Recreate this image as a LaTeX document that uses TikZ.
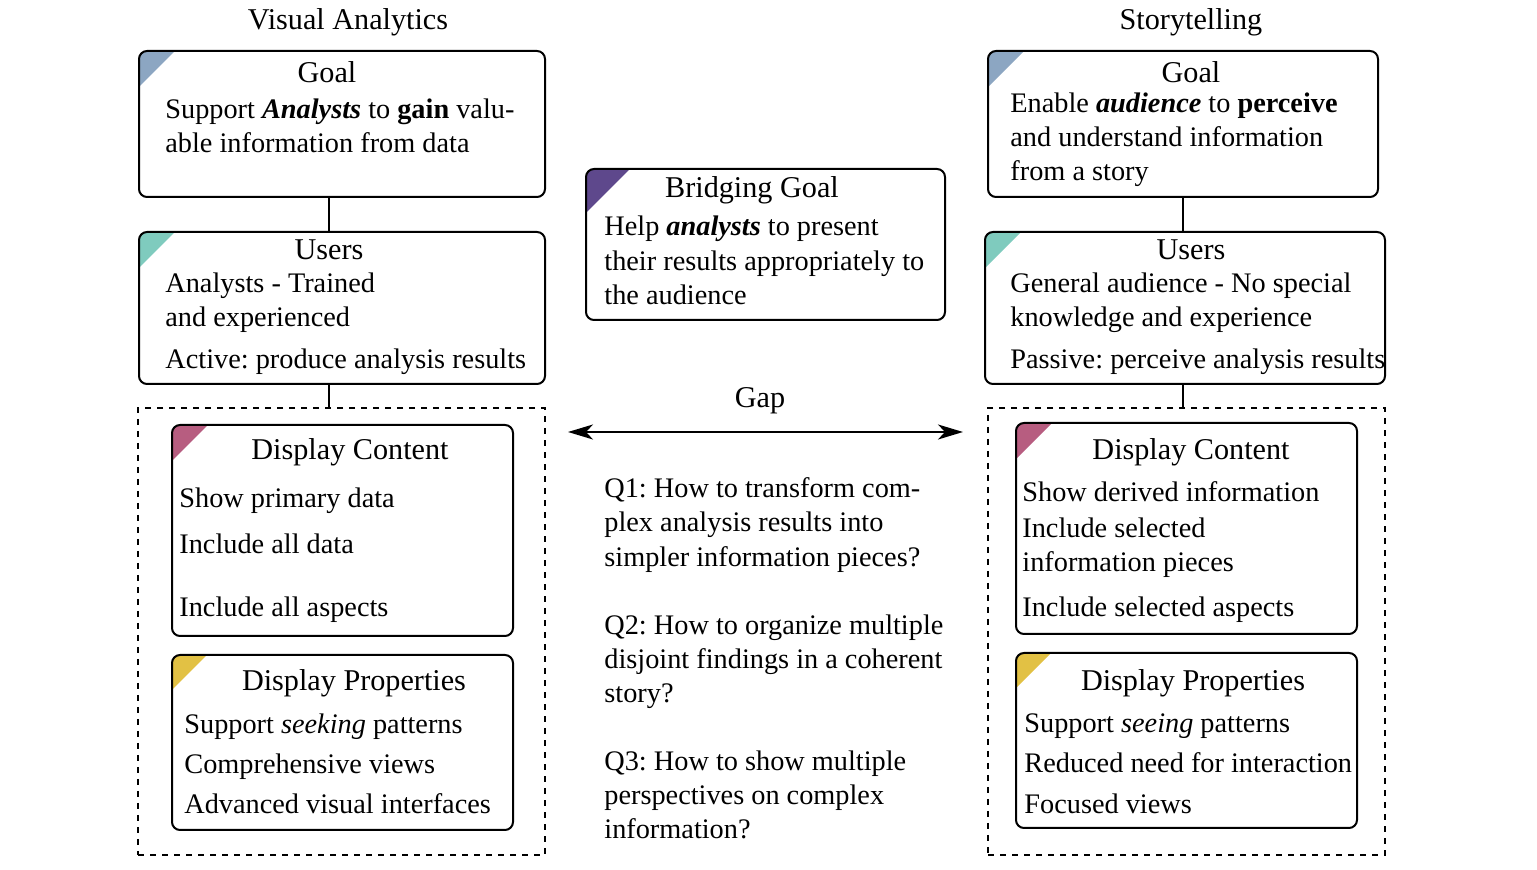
\documentclass[tikz,border=0pt]{standalone}
\usepackage{fontspec}
\setmainfont{Liberation Serif}
\usetikzlibrary{fit,arrows.meta}
\definecolor{cgoal}{RGB}{140,166,194}
\definecolor{cbridge}{RGB}{94,72,140}
\definecolor{cusers}{RGB}{127,203,190}
\definecolor{ccontent}{RGB}{183,93,128}
\definecolor{cprops}{RGB}{226,193,68}
\frenchspacing
\begin{document}
\begin{tikzpicture}[x=0.5pt,y=-0.5pt, font=\fontsize{14.15}{17}\selectfont,
 box/.style={draw, line width=1pt, rounded corners=4pt, inner sep=0pt},
 corner/.style 2 args={path picture={\fill[#1, sharp corners] (path picture bounding box.north west) -- ++(#2,0) -- ++(-#2,#2) -- cycle;}},
 dbox/.style={draw, line width=0.8pt, dashed, inner sep=0pt},
 ttl/.style={anchor=base, inner sep=0pt, yshift=-5pt, font=\fontsize{15.1}{18}\selectfont},
 txt/.style={anchor=base west, inner sep=0pt, yshift=-4.5pt},
 link/.style={line width=0.8pt}]
\useasboundingbox (0,0) rectangle (1537,870);

% titles
\node[ttl] (vatitle) at (348,20) {Visual Analytics};
\node[ttl] (sttitle) at (1191,20) {Storytelling};

% ---------- Visual Analytics ----------
\node[box, corner={cgoal}{36}, fit={(139,51) (545,197)}] (vagoal) {};
\node[ttl] (vagoalt) at (327,73) {Goal};
\node[txt] (vag1) at (165,110) {Support \textbf{\textit{Analysts}} to \textbf{gain} valu-};
\node[txt] (vag2) at (165,144) {able information from data};

\node[box, corner={cusers}{36}, fit={(139,232) (545,384)}] (vausers) {};
\node[ttl] (vauserst) at (329,250) {Users};
\node[txt] (vau1) at (165,284) {Analysts - Trained};
\node[txt] (vau2) at (165,318) {and experienced};
\node[txt] (vau3) at (165,360) {Active: produce analysis results};

\node[dbox, fit={(138,408) (545,855)}] (vadash) {};

\node[box, corner={ccontent}{36}, fit={(172,425) (513,636)}] (vadc) {};
\node[ttl] (vadct) at (350,450) {Display Content};
\node[txt] (vadc1) at (179,499) {Show primary data};
\node[txt] (vadc2) at (179,545) {Include all data};
\node[txt] (vadc3) at (179,608) {Include all aspects};

\node[box, corner={cprops}{35}, fit={(172,655) (513,830)}] (vadp) {};
\node[ttl] (vadpt) at (354,681) {Display Properties};
\node[txt] (vadp1) at (184,725) {Support \textit{seeking} patterns};
\node[txt] (vadp2) at (184,765) {Comprehensive views};
\node[txt] (vadp3) at (184,804) {Advanced visual interfaces};

\draw[link] (vagoal.south -| vauserst) -- (vausers.north -| vauserst);
\draw[link] (vausers.south -| vauserst) -- (vadash.north -| vauserst);

% ---------- Bridge ----------
\node[box, corner={cbridge}{44}, fit={(586,169) (945,320)}] (bridge) {};
\node[ttl] (bridget) at (752,188) {Bridging Goal};
\node[txt] (br1) at (604,227) {Help \textbf{\textit{analysts}} to present};
\node[txt] (br2) at (604,262) {their results appropriately to};
\node[txt] (br3) at (604,296) {the audience};

\node[ttl] (gap) at (760,398) {Gap};
\coordinate (gapL) at (568,432);
\coordinate (gapR) at (963,432);
\draw[line width=1pt, {Stealth[length=12.5pt,width=7.5pt,inset=3.5pt]}-{Stealth[length=12.5pt,width=7.5pt,inset=3.5pt]}] (gapL) -- (gapR);

\node[txt] (q11) at (604,489) {Q1: How to transform com-};
\node[txt] (q12) at (604,523) {plex analysis results into};
\node[txt] (q13) at (604,558) {simpler information pieces?};
\node[txt] (q21) at (604,626) {Q2: How to organize multiple};
\node[txt] (q22) at (604,660) {disjoint findings in a coherent};
\node[txt] (q23) at (604,694) {story?};
\node[txt] (q31) at (604,762) {Q3: How to show multiple};
\node[txt] (q32) at (604,796) {perspectives on complex};
\node[txt] (q33) at (604,830) {information?};

% ---------- Storytelling ----------
\node[box, corner={cgoal}{36}, fit={(988,51) (1378,197)}] (stgoal) {};
\node[ttl] (stgoalt) at (1191,73) {Goal};
\node[txt] (stg1) at (1010,104) {Enable \textbf{\textit{audience}} to \textbf{perceive}};
\node[txt] (stg2) at (1010,138) {and understand information};
\node[txt] (stg3) at (1010,172) {from a story};

\node[box, corner={cusers}{36}, fit={(985,232) (1385,384)}] (stusers) {};
\node[ttl] (stuserst) at (1191,250) {Users};
\node[txt] (stu1) at (1010,284) {General audience - No special};
\node[txt] (stu2) at (1010,318) {knowledge and experience};
\node[txt] (stu3) at (1010,360) {Passive: perceive analysis results};

\node[dbox, fit={(988,408) (1385,855)}] (stdash) {};

\node[box, corner={ccontent}{36}, fit={(1016,423) (1357,634)}] (stdc) {};
\node[ttl] (stdct) at (1191,450) {Display Content};
\node[txt] (stdc1) at (1022,493) {Show derived information};
\node[txt] (stdc2) at (1022,529) {Include selected};
\node[txt] (stdc3) at (1022,563) {information pieces};
\node[txt] (stdc4) at (1022,608) {Include selected aspects};

\node[box, corner={cprops}{35}, fit={(1016,653) (1357,828)}] (stdp) {};
\node[ttl] (stdpt) at (1193,681) {Display Properties};
\node[txt] (stdp1) at (1024,724) {Support \textit{seeing} patterns};
\node[txt] (stdp2) at (1024,764) {Reduced need for interaction};
\node[txt] (stdp3) at (1024,804) {Focused views};

\coordinate (stline) at (1183,0);
\draw[link] (stgoal.south -| stline) -- (stusers.north -| stline);
\draw[link] (stusers.south -| stline) -- (stdash.north -| stline);
\end{tikzpicture}
\end{document}
